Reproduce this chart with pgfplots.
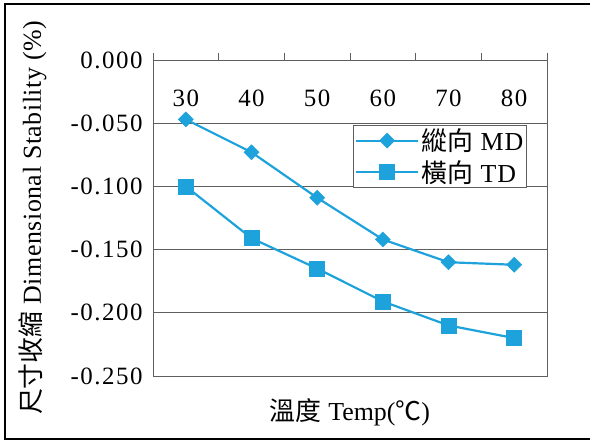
\documentclass[border=0pt]{standalone}
\usepackage{pgfplots}
\pgfplotsset{compat=1.18}
\usepackage{fontspec}
\setmainfont{Liberation Serif}
\newfontfamily\cjk{Noto Sans CJK TC}
\definecolor{linecol}{RGB}{30,162,220}
\definecolor{gridcol}{RGB}{95,95,95}

\begin{document}
\begin{tikzpicture}[x=1bp,y=1bp]
\useasboundingbox (0,0) rectangle (590,443);
\draw[line width=2.5bp] (595,439) -- (5,439) -- (5,4) -- (595,4);
\begin{axis}[
  at={(153bp,67bp)}, anchor=south west,
  scale only axis, width=394bp, height=316bp,
  xmin=25, xmax=85, ymin=-0.25, ymax=0,
  axis line style={draw=gridcol, line width=0.8bp},
  xtick={25,35,...,85}, xticklabels={},
  xtick pos=upper, tick align=outside, major tick length=7bp,
  x tick style={draw=gridcol, line width=0.8bp},
  extra x ticks={30,40,50,60,70,80},
  extra x tick labels={30,40,50,60,70,80},
  extra x tick style={major tick length=0pt},
  xticklabel pos=upper,
  xticklabel style={anchor=center, yshift=-38bp, font=\fontsize{25}{30}\selectfont\addfontfeatures{LetterSpace=6}},
  ytick={-0.25,-0.2,-0.15,-0.1,-0.05,0},
  yticklabels={-0.250,-0.200,-0.150,-0.100,-0.050,0.000},
  y tick style={draw=none},
  yticklabel style={font=\fontsize{25}{30}\selectfont\addfontfeatures{LetterSpace=6}},
  ymajorgrids, major grid style={draw=gridcol, line width=0.8bp},
  xlabel={{\cjk 溫度} Temp({\cjk ℃})},
  xlabel style={at={(axis description cs:0.5,-0.114)}, anchor=center, font=\fontsize{26}{30}\selectfont},
  ylabel={{\cjk 尺寸收縮} Dimensional Stability (\%)},
  ylabel style={at={(axis description cs:-0.305,0.5)}, anchor=center, font=\fontsize{26}{30}\selectfont\addfontfeatures{LetterSpace=2}},
  legend style={at={(0.508,0.794)}, anchor=north west, draw=gridcol, line width=0.8bp, fill=white,
    font=\fontsize{26}{30}\selectfont\addfontfeatures{LetterSpace=4}, cells={anchor=west}, inner sep=1.5bp, row sep=4bp},
  legend image code/.code={\draw[mark repeat=2, mark phase=2] plot coordinates {(0bp,0bp) (31bp,0bp) (62bp,0bp)};},
]
\addplot[linecol, line width=2.2bp, mark=square*, mark size=5.3bp, mark options={rotate=45, line width=0.5bp}]
  coordinates {(30,-0.047) (40,-0.073) (50,-0.109) (60,-0.142) (70,-0.160) (80,-0.162)};
\addlegendentry{{\cjk 縱向} MD}
\addplot[linecol, line width=2.2bp, mark=square*, mark size=7.5bp, mark options={line width=0.5bp}]
  coordinates {(30,-0.100) (40,-0.141) (50,-0.165) (60,-0.191) (70,-0.210) (80,-0.220)};
\addlegendentry{{\cjk 橫向} TD}
\end{axis}
\end{tikzpicture}
\end{document}
